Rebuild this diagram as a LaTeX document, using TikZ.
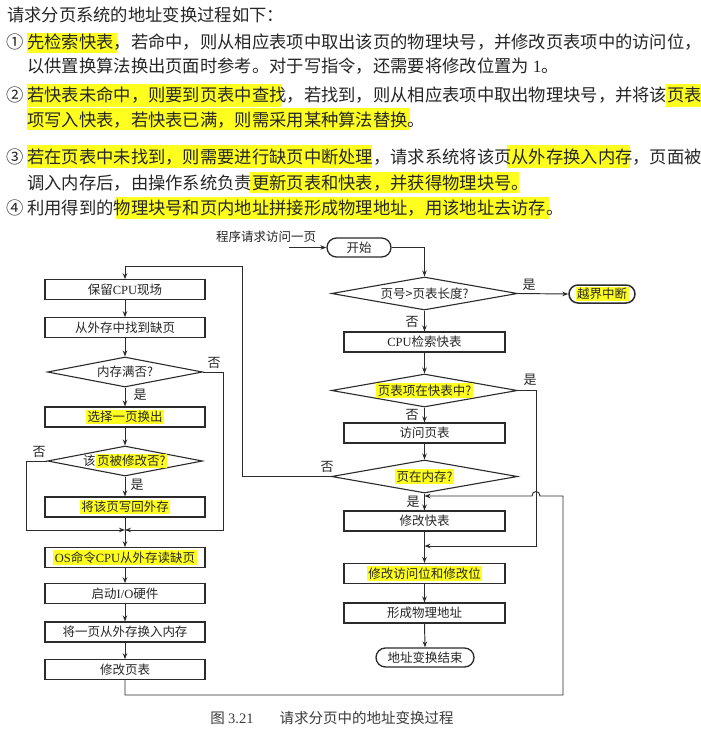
\documentclass[tikz,border=0pt]{standalone}
\usepackage{fontspec}
\setmainfont{Noto Sans CJK SC}
\newfontfamily\lat{Liberation Serif}
\usetikzlibrary{arrows.meta,shapes.geometric,shapes.misc,calc}
\XeTeXlinebreaklocale "zh"
\XeTeXlinebreakskip=0pt plus 1pt
\definecolor{ink}{HTML}{262626}
\definecolor{linec}{HTML}{2B2B2B}
\definecolor{hiyellow}{HTML}{FFFF1F}
\definecolor{capc}{HTML}{3A3A3A}
\newcommand\hl[1]{{\setlength{\fboxsep}{1.5pt}\colorbox{hiyellow}{#1}}}
\begin{document}
\begin{tikzpicture}[x=1pt,y=-1pt,
  para/.style={anchor=west, inner sep=0pt, font=\fontsize{17.3}{20}\selectfont, text=ink},
  fbox/.style={draw=linec, line width=1.1pt, rectangle, minimum width=160pt, minimum height=19.5pt,
    inner sep=0pt, font=\fontsize{12.5}{14}\selectfont, text=ink},
  fdia/.style={draw=linec, line width=1.1pt, diamond, aspect=5, inner xsep=-4pt, inner ysep=-4pt,
    minimum width=186pt, minimum height=33pt, font=\fontsize{12.5}{14}\selectfont, text=ink},
  ldia/.style={fdia, minimum width=155pt, minimum height=30pt},
  fterm/.style={draw=linec, line width=1.3pt, rounded rectangle, inner sep=0pt, minimum height=19pt,
    font=\fontsize{12.5}{14}\selectfont, text=ink},
  yn/.style={inner sep=0pt, font=\fontsize{13}{14}\selectfont, text=ink},
  conn/.style={draw=linec, line width=0.95pt},
  arr/.style={conn, -{Stealth[length=6pt,width=4.5pt]}}
]
\useasboundingbox (0,0) rectangle (701,734);
\fill[white] (0,0) rectangle (701,734);

% marker strokes behind the explanation text
\fill[hiyellow] (27,33) rectangle (117,53);
\fill[hiyellow] (27,84) rectangle (281,107);
\fill[hiyellow] (666,84) rectangle (701,107);
\fill[hiyellow] (27,108) rectangle (410,130);
\fill[hiyellow] (27,145) rectangle (372,168);
\fill[hiyellow] (507,145) rectangle (630,168);
\fill[hiyellow] (250,172) rectangle (519,193);
\fill[hiyellow] (116,197) rectangle (549,219);

% explanation text
\node[para] (t0) at (7,15) {请求分页系统的地址变换过程如下：};
\node[para] (n1) at (6,42) {①};
\node[para] (t1) at (27,42) {\hbox to 673pt{先检索快表，若命中，则从相应表项中取出该页的物理块号，并修改页表项中的访问位，}};
\node[para] (t2) at (27,66) {以供置换算法换出页面时参考。对于写指令，还需要将修改位置为 {\lat 1}。};
\node[para] (n2) at (6,95) {②};
\node[para] (t3) at (27,95) {\hbox to 673pt{若快表未命中，则要到页表中查找，若找到，则从相应表项中取出物理块号，并将该页表}};
\node[para] (t4) at (27,120) {项写入快表，若快表已满，则需采用某种算法替换。};
\node[para] (n3) at (6,157) {③};
\node[para] (t5) at (27,157) {\hbox to 673pt{若在页表中未找到，则需要进行缺页中断处理，请求系统将该页从外存换入内存，页面被}};
\node[para] (t6) at (27,183) {调入内存后，由操作系统负责更新页表和快表，并获得物理块号。};
\node[para] (n4) at (6,208) {④};
\node[para] (t7) at (27,208) {利用得到的物理块号和页内地址拼接形成物理地址，用该地址去访存。};

% right column: address translation
\node[yn, font=\fontsize{12.5}{14}\selectfont] (req) at (266,237) {程序请求访问一页};
\coordinate (reqin) at (289,247.5);
\node[fterm, minimum width=64pt] (start) at (359,247.5) {开始};
\node[fdia] (d1) at (424.5,293.5) {页号>页表长度?};
\node[fterm, minimum width=66pt, minimum height=18pt, line width=1.5pt] (oob) at (602,294) {\hl{越界中断}};
\node[fbox, minimum width=161pt, minimum height=20pt] (cpu) at (424.5,342) {{\lat CPU}检索快表};
\node[fdia] (d2) at (424.5,390.5) {\hl{页表项在快表中?}};
\node[fbox, minimum width=161pt, minimum height=20pt] (visit) at (424.5,433) {访问页表};
\node[fdia] (d3) at (424.5,476.5) {\hl{页在内存?}};
\node[fbox, minimum width=161pt, minimum height=20pt] (modtlb) at (424.5,521) {修改快表};
\node[fbox, minimum width=161pt, minimum height=20pt] (modbits) at (424.5,573.5) {\hl{修改访问位和修改位}};
\node[fbox, minimum width=161pt, minimum height=20pt] (phys) at (424.5,613) {形成物理地址};
\node[fterm, minimum width=98pt] (fin) at (425,657.5) {地址变换结束};

% left column: page fault handling
\node[fbox] (save) at (125,289.5) {保留{\lat CPU}现场};
\node[fbox] (find) at (125,327.5) {从外存中找到缺页};
\node[ldia] (dmem) at (125,372) {内存满否?};
\node[fbox, minimum height=20pt] (choose) at (125,417) {\hl{选择一页换出}};
\node[ldia] (dmod) at (125,461) {该\hl{页被修改否?}};
\node[fbox, minimum height=20pt] (write) at (125,507) {\hl{将该页写回外存}};
\node[fbox] (osread) at (125,557.5) {\hl{{\lat OS}命令{\lat CPU}从外存读缺页}};
\node[fbox] (io) at (125,593.5) {启动{\lat I/O}硬件};
\node[fbox, minimum height=20pt] (swap) at (125,632) {将一页从外存换入内存};
\node[fbox] (modpt) at (125,669.5) {修改页表};

% yes / no labels
\node[yn] (l1) at (529,285) {是};
\node[yn] (l2) at (412,322) {否};
\node[yn] (l3) at (530,380) {是};
\node[yn] (l4) at (412,415) {否};
\node[yn] (l5) at (327,467) {否};
\node[yn] (l6) at (413,502) {是};
\node[yn] (l7) at (214,363) {否};
\node[yn] (l8) at (140,395) {是};
\node[yn] (l9) at (39,452) {否};
\node[yn] (l10) at (137,485) {是};

% junction points and bends
\coordinate (j1) at (125,530);
\coordinate (j2) at (424.5,546);
\coordinate (j3) at (424.5,496);
\coordinate (c1) at (242,266);
\coordinate (c2) at (563,695);
\coordinate (hopR) at (540,496);
\coordinate (hopL) at (532,496);

% connectors, right column
\draw[arr] (reqin) -- (start.west);
\draw[arr] (start.east) -| (d1.north);
\draw[arr] (d1.east) -- (oob.west);
\draw[arr] (d1.south) -- (cpu.north);
\draw[arr] (cpu.south) -- (d2.north);
\draw[arr] (d2.south) -- (visit.north);
\draw[arr] (visit.south) -- (d3.north);
\draw[arr] (d3.south) -- (modtlb.north);
\draw[arr] (modtlb.south) -- (modbits.north);
\draw[arr] (d2.east) -- ++(18.5,0) |- (j2);
\draw[arr] (modbits.south) -- (phys.north);
\draw[arr] (phys.south) -- (fin.north);
\draw[arr] (d3.west) -| (c1) -| (save.north);

% connectors, left column
\draw[arr] (save.south) -- (find.north);
\draw[arr] (find.south) -- (dmem.north);
\draw[arr] (dmem.south) -- (choose.north);
\draw[arr] (choose.south) -- (dmod.north);
\draw[arr] (dmod.south) -- (write.north);
\draw[arr] (dmem.east) -- ++(20.5,0) |- (j1);
\draw[arr] (dmod.west) -- ++(-20.5,0) |- (j1);
\draw[arr] (write.south) -- (osread.north);
\draw[arr] (osread.south) -- (io.north);
\draw[arr] (io.south) -- (swap.north);
\draw[arr] (swap.south) -- (modpt.north);

% return path after the page is loaded, hopping over the TLB-hit line
\draw[arr] (modpt.south) |- (c2) |- (hopR)
  .. controls ($(hopR)+(0,-6)$) and ($(hopL)+(0,-6)$) .. (hopL) -- (j3);

% caption
\node[inner sep=0pt, font=\fontsize{14.5}{16}\selectfont, text=capc] (cap) at (332,718)
  {图 {\lat 3.21}\hspace{1.8em}请求分页中的地址变换过程};
\end{tikzpicture}
\end{document}
